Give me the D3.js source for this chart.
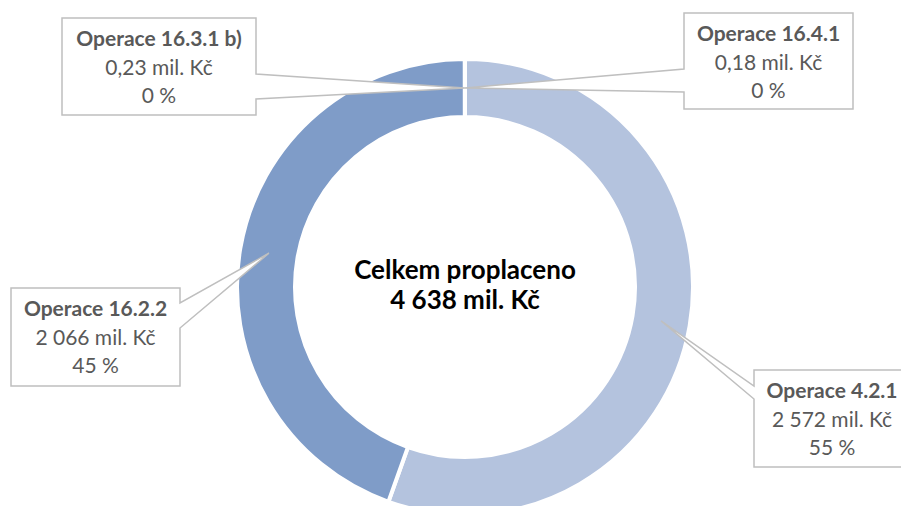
<!DOCTYPE html>
<html>
<head>
<meta charset="utf-8">
<script src="https://cdn.jsdelivr.net/npm/d3@7"></script>
<style>
  body { margin: 0; background: #fff; }
  text { font-family: Lato, "Open Sans", sans-serif; }
</style>
</head>
<body>
<script>
// data (mil. Kč)
var categories = ["Operace 4.2.1", "Operace 16.2.2", "Operace 16.3.1 b)", "Operace 16.4.1"];
var values = [2572, 2066, 0.23, 0.18];
var colors = ["#b4c3de", "#7f9cc8", "#a5a5a5", "#5b9bd5"];
var centerTitle = "Celkem proplaceno";

var w = 901;
var h = 506;
var cx = 465, cy = 287;

// callout boxes, one per slice
var boxes = [
  {x: 754, y: 370, w: 156, h: 97, side: "left", n0: 386, n1: 399},
  {x: 11, y: 288, w: 169, h: 98, side: "right", n0: 303, n1: 328},
  {x: 62, y: 18, w: 194, h: 97, side: "right", n0: 74, n1: 99},
  {x: 684, y: 13, w: 169, h: 96, side: "left", n0: 69, n1: 92}
];

var cz = d3.formatLocale({decimal: ",", thousands: "\u00a0", grouping: [3], currency: ["", ""]});
var fmtBig = cz.format(",.0f");
var fmtSmall = cz.format(".2f");
var total = d3.sum(values);

var svg = d3.select("body")
  .append("svg")
  .attr("width", w)
  .attr("height", h);

var pie = d3.pie().sort(null).value(function(d) { return d; });
var arcs = pie(values);

var arc = d3.arc().innerRadius(170).outerRadius(228);
var mid = d3.arc().innerRadius(199).outerRadius(199);

var g = svg.append("g").attr("transform", "translate(" + cx + "," + cy + ")");

g.selectAll("path")
  .data(arcs)
  .enter()
  .append("path")
  .attr("d", arc)
  .attr("fill", function(d, i) { return colors[i]; })
  .attr("stroke", "#fff")
  .attr("stroke-width", 4);

// callouts
function callout(b, p) {
  var r = b.x + b.w, btm = b.y + b.h;
  if (b.side == "right") {
    return "M" + b.x + "," + b.y + "H" + r + "V" + b.n0 + "L" + p[0] + "," + p[1] +
      "L" + r + "," + b.n1 + "V" + btm + "H" + b.x + "Z";
  }
  return "M" + b.x + "," + b.y + "H" + r + "V" + btm + "H" + b.x + "V" + b.n1 +
    "L" + p[0] + "," + p[1] + "L" + b.x + "," + b.n0 + "Z";
}

arcs.forEach(function(d, i) {
  var c = mid.centroid(d);
  var p = [cx + c[0], cy + c[1]];
  var b = boxes[i];
  svg.append("path")
    .attr("d", callout(b, p))
    .attr("fill", "#fff")
    .attr("stroke", "#bfbfbf")
    .attr("stroke-width", 1.5)
    .attr("stroke-linejoin", "miter");

  var tx = b.x + b.w / 2;
  var v = values[i];
  var lines = [
    categories[i],
    (v < 1 ? fmtSmall(v) : fmtBig(v)) + " mil. Kč",
    Math.round(v / total * 100) + " %"
  ];
  lines.forEach(function(t, j) {
    svg.append("text")
      .attr("x", tx)
      .attr("y", b.y + 28 + j * 28.5)
      .attr("text-anchor", "middle")
      .attr("font-size", 21)
      .attr("font-weight", j == 0 ? "bold" : "normal")
      .attr("fill", "#595959")
      .text(t);
  });
});

// centre label
svg.append("text")
  .attr("x", cx)
  .attr("y", 279)
  .attr("text-anchor", "middle")
  .attr("font-size", 26)
  .attr("font-weight", "bold")
  .attr("fill", "#000")
  .text(centerTitle);

svg.append("text")
  .attr("x", cx)
  .attr("y", 309)
  .attr("text-anchor", "middle")
  .attr("font-size", 26)
  .attr("font-weight", "bold")
  .attr("fill", "#000")
  .text(fmtBig(total) + " mil. Kč");
</script>
</body>
</html>
